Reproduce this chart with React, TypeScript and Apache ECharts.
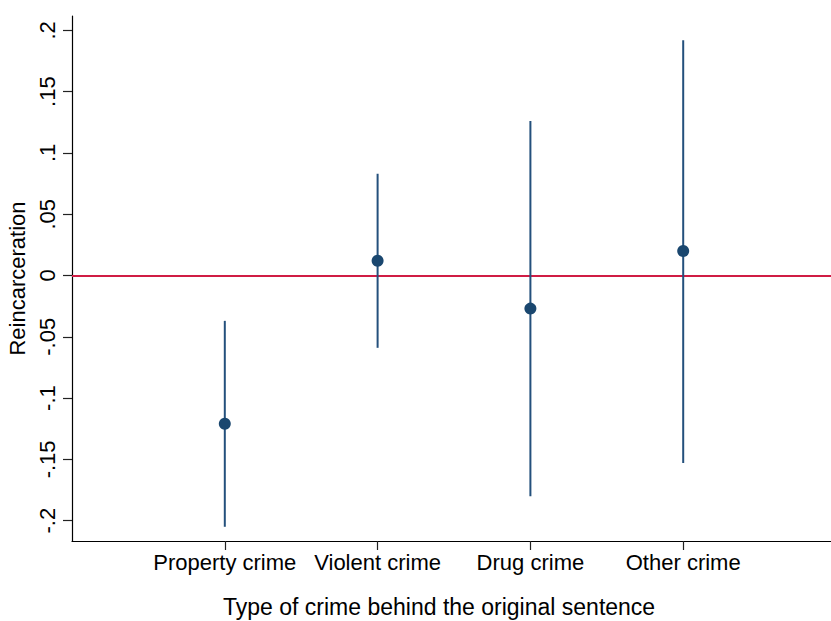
import React, { useEffect, useRef } from "react";
import * as echarts from "echarts";

// Point estimates with 95% confidence intervals by crime type
const categories = ["Property crime", "Violent crime", "Drug crime", "Other crime"];
const estimates = [-0.121, 0.012, -0.027, 0.02];
const lowerBounds = [-0.205, -0.059, -0.18, -0.153];
const upperBounds = [-0.037, 0.083, 0.126, 0.192];
const yTicks = [-0.2, -0.15, -0.1, -0.05, 0, 0.05, 0.1, 0.15, 0.2];
const xPositions = [1, 2, 3, 4];

const FONT = "'Liberation Sans', Arial, Helvetica, sans-serif";
const NAVY = "#1a476f";
const RED = "#d01c44";

// Stata-style tick text: ".15", "-.05", "0"
function fmtTick(v: number): string {
  const r = Math.round(v * 100) / 100;
  if (r === 0) return "0";
  const s = String(Math.abs(r)).replace(/^0/, "");
  return (r < 0 ? "-" : "") + s;
}

export default function App() {
  const ref = useRef<HTMLDivElement>(null);

  useEffect(() => {
    if (!ref.current) return;
    const chart = echarts.init(ref.current, null, { renderer: "svg" });

    const ciData = xPositions.map((x, i) => [x, lowerBounds[i], upperBounds[i]]);
    const pointData = xPositions.map((x, i) => [x, estimates[i]]);

    chart.setOption({
      animation: false,
      backgroundColor: "#ffffff",
      textStyle: { fontFamily: FONT },
      grid: {
        left: 72,
        right: -5,
        top: 16,
        bottom: 80,
        containLabel: false,
        outerBoundsMode: "none",
      },
      xAxis: {
        type: "value",
        min: 0,
        max: 5,
        splitLine: { show: false },
        axisLine: { show: true, onZero: false, lineStyle: { color: "#000", width: 1.2 } },
        axisTick: {
          show: true,
          length: 9,
          customValues: xPositions,
          lineStyle: { color: "#222", width: 1.2 },
        },
        axisLabel: {
          show: true,
          customValues: xPositions,
          margin: 10,
          fontSize: 22,
          color: "#000",
          fontFamily: FONT,
          formatter: (v: number) => categories[Math.round(v) - 1] ?? "",
        },
      },
      yAxis: {
        type: "value",
        min: -0.2166,
        max: 0.2117,
        splitLine: { show: false },
        name: "Reincarceration",
        nameLocation: "middle",
        nameGap: 42,
        nameTextStyle: { fontSize: 22, color: "#000", fontFamily: FONT },
        axisLine: { show: true, onZero: false, lineStyle: { color: "#000", width: 1.2 } },
        axisTick: {
          show: true,
          length: 9,
          customValues: yTicks,
          lineStyle: { color: "#222", width: 1.2 },
        },
        axisLabel: {
          show: true,
          customValues: yTicks,
          rotate: 90,
          margin: 14,
          fontSize: 22,
          color: "#000",
          fontFamily: FONT,
          formatter: (v: number) => fmtTick(v),
        },
      },
      graphic: [
        {
          type: "text",
          left: 223,
          top: 595,
          style: {
            text: "Type of crime behind the original sentence",
            fontSize: 23,
            fontFamily: FONT,
            fill: "#000",
          },
        },
      ],
      series: [
        {
          type: "custom",
          silent: true,
          z: 2,
          data: ciData,
          encode: { x: 0, y: [1, 2] },
          renderItem: (params: any, api: any) => {
            const x = api.value(0);
            const p1 = api.coord([x, api.value(1)]);
            const p2 = api.coord([x, api.value(2)]);
            return {
              type: "line",
              shape: { x1: p1[0], y1: p1[1], x2: p2[0], y2: p2[1] },
              style: { stroke: "#24507c", lineWidth: 2 },
            };
          },
        },
        {
          type: "scatter",
          silent: true,
          z: 3,
          data: pointData,
          symbol: "circle",
          symbolSize: 12,
          itemStyle: { color: NAVY, opacity: 1 },
          markLine: {
            silent: true,
            symbol: "none",
            label: { show: false },
            lineStyle: { color: RED, width: 2, type: "solid" },
            data: [{ yAxis: 0 }],
            z: 1,
          },
        },
      ],
    });

    return () => chart.dispose();
  }, []);

  return (
    <div
      ref={ref}
      style={{ position: "fixed", left: 0, top: 0, width: 831, height: 621, background: "#fff" }}
    />
  );
}
